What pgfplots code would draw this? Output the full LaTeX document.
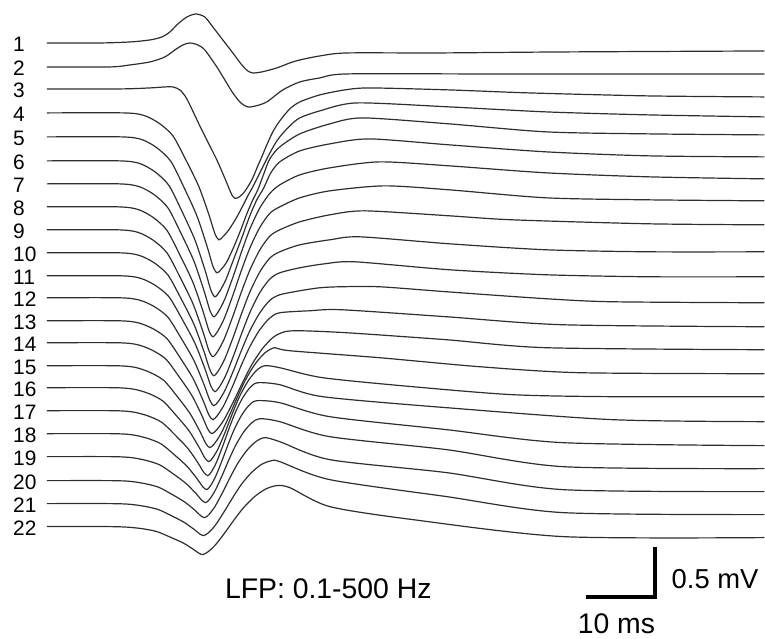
\documentclass[border=0pt]{standalone}
\usepackage{pgfplots}
\pgfplotsset{compat=1.18}
\usepackage{fontspec}
\setmainfont{Liberation Sans}
\tikzset{lab/.style={anchor=west, inner sep=0pt, font=\fontsize{21}{25}\selectfont},
  big/.style={anchor=west, inner sep=0pt, font=\fontsize{28.5}{33}\selectfont}}
\pgfplotsset{trace/.style={black!82, line width=1.2bp, smooth, tension=0.45, no marks}}
\begin{document}
\begin{tikzpicture}
\begin{axis}[width=765bp, height=639bp, scale only axis,
  xmin=0, xmax=765, ymin=0, ymax=639, y dir=reverse,
  hide axis, clip=false]
\path (axis cs:0,0) rectangle (axis cs:765,639);
% trace 1
\addplot[trace] coordinates {(47,43) (100,43) (130,42) (150,40) (162,37) (170,32) (178,24) (187,17) (196,14) (205,17) (213,27) (223,40) (233,53) (242,65) (248,71) (253,73) (262,72) (277,68) (290,63) (300,60) (320,56) (347,53) (437,53) (560,52) (765,51)};
% trace 2
\addplot[trace] coordinates {(47,67) (110,67) (130,65) (150,62) (165,57) (175,50) (183,45) (190,43) (198,45) (205,50) (217,67) (225,80) (233,93) (241,103) (248,107) (256,106) (267,102) (283,90) (300,82) (320,78) (347,74) (480,74) (600,74) (765,74)};
% trace 3
\addplot[trace] coordinates {(47,89) (120,89) (150,88) (165,87) (173,87) (180,90) (187,99) (200,126) (210,146) (217,160) (224,176) (229,188) (232,195) (235,198.5) (238,198) (243,194) (248,187) (253,178) (258,166) (262,157) (267,145) (273,132) (280,121) (290,109) (300,102) (320,95) (345,90) (370,88) (450,90) (530,93) (650,96) (765,97)};
% trace 4
\addplot[trace] coordinates {(47,113) (124,113) (144,115.5) (159,123.2) (173,135.9) (186,160) (199,186.7) (209,214.6) (215,233.7) (219,240) (223,237) (229,230) (236,219) (243,206) (248,196) (253,187) (259,175) (267,159) (274,146) (280,137) (290,126) (300,118) (320,111) (357,103) (450,107) (547,112) (650,115) (765,117)};
% trace 5
\addplot[trace] coordinates {(47,137) (122,137) (142,139.7) (157,147.9) (171,161.5) (184,187.3) (197,215.9) (207,245.8) (213,266.2) (217,273) (221,270) (227,262) (234,247) (241,230) (247,214) (253,200) (258,190) (264,174) (270,159) (280,147) (300,134) (330,124) (363,118) (450,124) (547,132) (650,134) (765,135)};
% trace 6
\addplot[trace] coordinates {(47,161) (120,161) (140,163.7) (155,171.9) (169,185.5) (182,211.3) (195,239.9) (205,269.8) (211,290.2) (215,297) (219.6,292) (226,280) (234,259) (242,238) (250,216) (257,200) (264,188) (271,173) (280,162) (300,151) (330,144) (370,139) (450,145) (547,152) (650,156) (765,157)};
% trace 7
\addplot[trace] coordinates {(47,184) (119,184) (139,186.7) (154,194.6) (168,207.9) (181,233.2) (194,261.1) (204,290.4) (210,310.4) (214,317) (218.6,311.8) (225.2,298.8) (233.8,275.4) (241.7,252) (250.3,228.6) (260.2,207.8) (270.1,193.5) (280,185) (300,175) (330,168) (380,162) (450,166) (547,173) (650,177) (765,179)};
% trace 8
\addplot[trace] coordinates {(47,207) (118,207) (138,209.6) (153,217.4) (167,230.4) (180,255.1) (193,282.4) (203,311) (209,330.5) (213,337) (217.7,331.8) (224.4,318.8) (233.1,295.4) (241.1,272) (249.9,248.6) (259.9,227.8) (270,213.5) (280,207) (300,198) (330,191) (385,186) (450,190) (547,198) (650,200) (765,201)};
% trace 9
\addplot[trace] coordinates {(47,230) (118,230) (138,232.5) (153,240.2) (167,252.9) (180,277) (193,303.7) (203,331.6) (209,350.7) (213,357) (217.7,351.9) (224.4,339.2) (233.1,316.4) (241.1,293.5) (249.9,270.6) (259.9,250.3) (270,236.3) (280,230) (300,222) (330,215) (365,211) (450,216) (513,220) (650,224) (765,225)};
% trace 10
\addplot[trace] coordinates {(47,253) (119,253) (139,255.5) (154,262.8) (168,275.1) (181,298.5) (194,324.3) (204,351.4) (210,369.9) (214,376) (218.6,371) (225.2,358.6) (233.8,336.3) (241.7,314) (250.3,291.7) (260.2,271.8) (270.1,258.2) (280,252) (300,245) (330,240) (360,237) (450,244) (547,250) (650,252) (765,252)};
% trace 11
\addplot[trace] coordinates {(47,276) (120,276) (140,278.3) (155,285.3) (169,296.9) (182,318.9) (195,343.3) (205,368.8) (211,386.2) (215,392) (219.6,387.2) (226.1,375.3) (234.5,353.9) (242.3,332.5) (250.8,311.1) (260.5,292) (270.3,279) (280,273) (300,268) (325,264) (355,262) (450,270) (547,275) (650,277) (765,277)};
% trace 12
\addplot[trace] coordinates {(47,298) (119,298) (139,300.2) (154,306.6) (168,317.4) (181,338) (194,360.6) (204,384.4) (210,400.6) (214,406) (218.6,401.6) (225.2,390.5) (233.8,370.5) (241.7,350.5) (250.3,330.5) (260.2,312.8) (270.1,300.5) (280,295) (300,291) (320,288) (340,287) (380,287) (447,292) (547,299) (613,302) (765,303)};
% trace 13
\addplot[trace] coordinates {(47,321) (118,321) (138,323) (153,328.9) (167,338.8) (180,357.6) (193,378.4) (203,400.2) (209,415.1) (213,420) (217.7,415.7) (224.4,405) (233.1,385.8) (241.1,366.5) (249.9,347.2) (259.9,330.1) (270,318.3) (280,313) (310,311) (342,310) (447,317) (563,325) (765,327)};
% trace 14
\addplot[trace] coordinates {(47,343) (117,343) (137,344.8) (152,350.3) (166,359.4) (179,376.7) (192,395.8) (202,415.8) (208,429.5) (212,434) (217.1,429.9) (224.4,419.7) (233.9,401.4) (242.7,383) (252.2,364.6) (263.1,348.3) (274,337.1) (285,332) (300,331) (347,333) (447,340) (547,348) (765,350)};
% trace 15
\addplot[trace] coordinates {(47,366) (115,366) (135,367.6) (150,372.6) (164,380.8) (177,396.3) (190,413.6) (200,431.6) (206,443.9) (210,448) (214.6,444) (221.1,434) (229.5,416) (237.3,398) (245.8,380) (255.5,364) (265.3,353) (275,348) (290,351) (380,358) (480,367) (580,373) (765,374)};
% trace 16
\addplot[trace] coordinates {(47,388) (114,388) (134,389.5) (149,393.9) (163,401.3) (176,415.4) (189,430.9) (199,447.2) (205,458.3) (209,462) (212.9,458.2) (218.5,448.6) (225.8,431.3) (232.5,414) (239.8,396.7) (248.2,381.4) (256.6,370.8) (265,366) (280,368) (323,378) (413,387) (513,395) (613,397) (765,397)};
% trace 17
\addplot[trace] coordinates {(47,411) (113,411) (133,412.3) (148,416.2) (162,422.7) (175,435.1) (188,448.7) (198,463) (204,472.8) (208,476) (211.5,472.3) (216.5,463) (223,446.2) (229,429.5) (235.5,412.8) (243,397.9) (250.5,387.6) (258,383) (280,385) (323,397) (447,408) (613,420) (765,422)};
% trace 18
\addplot[trace] coordinates {(47,434) (112,434) (132,435.1) (147,438.5) (161,444.1) (174,454.7) (187,466.5) (197,478.8) (203,487.2) (207,490) (210.5,486.4) (215.5,477.5) (222,461.5) (228,445.5) (234.5,429.5) (242,415.2) (249.5,405.4) (257,401) (280,403) (330,417) (447,430) (563,443) (765,446)};
% trace 19
\addplot[trace] coordinates {(47,457) (111,457) (131,457.9) (146,460.7) (160,465.3) (173,474) (186,483.7) (196,493.8) (202,500.7) (206,503) (209.8,499.6) (215.2,491.2) (222.2,476.1) (228.7,461) (235.7,445.9) (243.8,432.4) (251.9,423.2) (260,419) (280,422) (330,437) (447,450) (563,467) (765,469)};
% trace 20
\addplot[trace] coordinates {(47,481) (110,481) (130,481.7) (145,484) (159,487.7) (172,494.7) (185,502.5) (195,510.6) (201,516.2) (205,518) (209.2,514.8) (215.2,506.8) (223,492.4) (230.2,478) (238,463.6) (247,450.8) (256,442) (265,438) (280,442) (330,460) (447,473) (563,490) (765,492)};
% trace 21
\addplot[trace] coordinates {(47,504) (109,504) (129,504.6) (144,506.6) (158,509.8) (171,515.8) (184,522.6) (194,529.6) (200,534.4) (204,536) (208.8,533) (215.6,525.5) (224.4,512) (232.6,498.5) (241.4,485) (251.6,473) (261.8,464.7) (272,461) (280,462) (330,480) (447,497) (563,513) (765,515)};
% trace 22
\addplot[trace] coordinates {(47,527) (108,527) (128,527.6) (143,529.2) (157,532) (170,537.4) (183,543.2) (193,549.4) (199,553.6) (203,555) (208.2,552.2) (215.6,545.3) (225.2,532.9) (234.1,520.5) (243.7,508.1) (254.8,497) (265.9,489.4) (277,486) (290,488) (330,507) (413,520) (563,537) (765,538)};
% scale bar: 10 ms (72 px) and 0.5 mV (50 px)
\addplot[black, line width=4bp, line join=miter, line cap=butt, no marks] coordinates {(586,597) (656,597) (656,547)};
% channel labels
\node[lab] at (axis cs:13,44.5) {1};
\node[lab] at (axis cs:13,68.5) {2};
\node[lab] at (axis cs:13,90.5) {3};
\node[lab] at (axis cs:13,114.5) {4};
\node[lab] at (axis cs:13,138.5) {5};
\node[lab] at (axis cs:13,162.5) {6};
\node[lab] at (axis cs:13,185.5) {7};
\node[lab] at (axis cs:13,208.5) {8};
\node[lab] at (axis cs:13,231.5) {9};
\node[lab] at (axis cs:13,254.5) {10};
\node[lab] at (axis cs:13,277.5) {11};
\node[lab] at (axis cs:13,299.5) {12};
\node[lab] at (axis cs:13,322.5) {13};
\node[lab] at (axis cs:13,344.5) {14};
\node[lab] at (axis cs:13,367.5) {15};
\node[lab] at (axis cs:13,389.5) {16};
\node[lab] at (axis cs:13,412.5) {17};
\node[lab] at (axis cs:13,435.5) {18};
\node[lab] at (axis cs:13,458.5) {19};
\node[lab] at (axis cs:13,482.5) {20};
\node[lab] at (axis cs:13,505.5) {21};
\node[lab] at (axis cs:13,528.5) {22};
\node[big] at (axis cs:225,589.5) {LFP: 0.1-500 Hz};
\node[big, font=\fontsize{27.5}{32}\selectfont] at (axis cs:672,580) {0.5 mV};
\node[big] at (axis cs:578,624) {10 ms};
\end{axis}
\end{tikzpicture}
\end{document}
